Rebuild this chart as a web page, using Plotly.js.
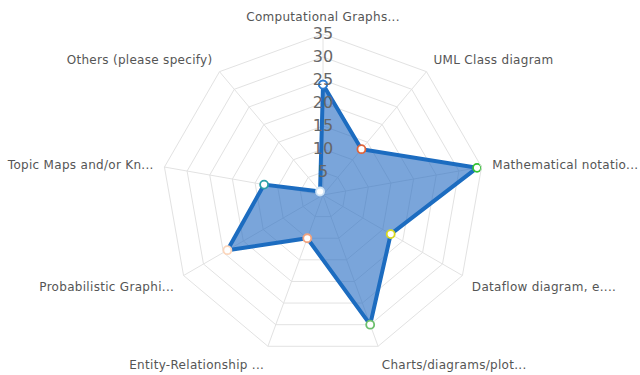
<!DOCTYPE html>
<html>
<head>
<meta charset="utf-8">
<script src="https://cdn.plot.ly/plotly-3.0.1.min.js"></script>
<style>
  body { margin: 0; }
  #plotDiv { width: 640px; height: 375px; }
</style>
</head>
<body>
<div id="plotDiv"></div>
<script>
// categories, clockwise from the top
let categories = [
  "Computational Graphs...",
  "UML Class diagram",
  "Mathematical notatio...",
  "Dataflow diagram, e....",
  "Charts/diagrams/plot...",
  "Entity-Relationship ...",
  "Probabilistic Graphi...",
  "Topic Maps and/or Kn...",
  "Others (please specify)"
];
let counts = [24, 13, 34, 17, 30, 10, 24, 13, 1];
let pointColors = ["#2b7bd0", "#e0643a", "#33c233", "#d8d820", "#6cbf6c",
                   "#f0a27e", "#fbd6bc", "#2aa0a8", "#cfe3f5"];
let radialTicks = [5, 10, 15, 20, 25, 30, 35];

// close the polygon
let theta = categories.concat([categories[0]]);
let r = counts.concat([counts[0]]);
let mcolors = pointColors.concat([pointColors[0]]);

let data = [
  {
    type: "scatterpolar",
    r: r,
    theta: theta,
    mode: "lines+markers",
    fill: "toself",
    fillcolor: "rgba(40,110,195,0.62)",
    line: { color: "#1c6cc0", width: 4 },
    marker: {
      size: 8,
      color: "#ffffff",
      line: { color: mcolors, width: 1.8 }
    },
    hoverinfo: "r+theta"
  }
];

let margin = { t: 34, b: 19, l: 103, r: 97 };

let layout = {
  width: 640,
  height: 375,
  margin: margin,
  paper_bgcolor: "#ffffff",
  showlegend: false,
  font: { family: "DejaVu Sans, sans-serif", color: "#555555" },
  polar: {
    bgcolor: "#ffffff",
    gridshape: "linear",
    radialaxis: {
      range: [0, 35],
      angle: 90,
      tickangle: 90,
      tickvals: radialTicks,
      ticktext: radialTicks.map(String),
      showline: false,
      ticks: "",
      gridcolor: "#e2e2e2",
      tickfont: { size: 16, color: "#666666" },
      layer: "above traces"
    },
    angularaxis: {
      direction: "clockwise",
      rotation: 90,
      linecolor: "#e2e2e2",
      gridcolor: "#e2e2e2",
      ticks: "outside",
      ticklen: 8,
      tickcolor: "rgba(0,0,0,0)",
      tickfont: { size: 12, color: "#555555" }
    }
  }
};

Plotly.newPlot("plotDiv", data, layout, { staticPlot: true }).then(function () {
  let axisX = margin.l + (640 - margin.l - margin.r) / 2;
  document.querySelectorAll("#plotDiv svg text").forEach(function (t) {
    let s = t.textContent.trim();
    if (/^\d+$/.test(s)) {
      // centre the radial tick labels on the axis line
      let b = t.getBoundingClientRect();
      let dx = axisX - (b.left + b.width / 2);
      let m = t.parentNode.getScreenCTM().inverse();
      let vx = m.a * dx, vy = m.b * dx;
      let tr = t.getAttribute("transform") || "";
      t.setAttribute("transform", "translate(" + vx + "," + vy + ") " + tr);
    } else if (categories.indexOf(s) >= 0) {
      // slightly wider letters for the category labels
      t.style.letterSpacing = "0.3px";
    }
  });
});
</script>
</body>
</html>
